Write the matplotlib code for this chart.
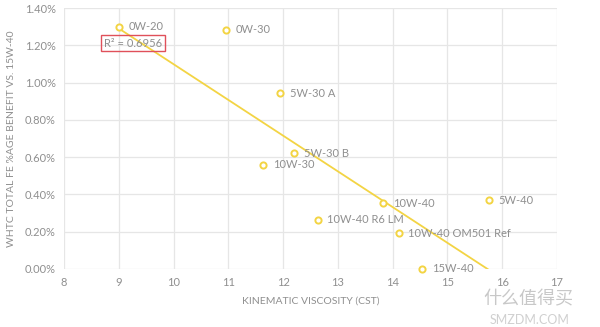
import numpy as np
import matplotlib
matplotlib.use("Agg")
import matplotlib.pyplot as plt
from matplotlib.ticker import FuncFormatter

labels = ["0W-20", "0W-30", "5W-30 A", "5W-30 B", "10W-30", "10W-40 R6 LM",
          "10W-40", "10W-40 OM501 Ref", "15W-40", "5W-40"]
viscosity = [9.0, 10.96, 11.95, 12.2, 11.63, 12.63, 13.83, 14.11, 14.54, 15.76]
benefit = [1.30, 1.284, 0.944, 0.622, 0.558, 0.263, 0.352, 0.193, 0.0, 0.37]
xticks = [8, 9, 10, 11, 12, 13, 14, 15, 16, 17]
yticks = [0.0, 0.2, 0.4, 0.6, 0.8, 1.0, 1.2, 1.4]
r2_text = "R² = 0.6956"

plt.rcParams['font.family'] = ['Lato', 'DejaVu Sans']
gray = '#8f8f8f'
yellow = '#F3D444'

fig = plt.figure(figsize=(6, 3.27), dpi=100)
ax = fig.add_axes([0.1067, 0.1774, 0.8216, 0.7981])

x = np.array(viscosity)
y = np.array(benefit)
slope, intercept = np.polyfit(x, y, 1)
xl = np.array([x.min(), x.max()])
ax.plot(xl, slope * xl + intercept, color=yellow, lw=1.3, zorder=2)

ax.scatter(x, y, s=20, facecolors='white', edgecolors=yellow, linewidths=1.4, zorder=3, clip_on=False)
for lx, ly, lab in zip(x, y, labels):
    ax.annotate(lab, (lx, ly), xytext=(7, 0), textcoords='offset points',
                va='center', ha='left', fontsize=8, color=gray, zorder=4)

ax.text(9.26, 1.212, r2_text, ha='center', va='center', fontsize=8, color=gray,
        bbox=dict(boxstyle='square,pad=0.25', fc='none', ec='#e0505a', lw=1.0), zorder=5)

ax.set_xlim(8, 17)
ax.set_ylim(0, 1.4)
ax.set_xticks(xticks)
ax.set_yticks(yticks)
ax.yaxis.set_major_formatter(FuncFormatter(lambda v, p: f"{v:.2f}%"))
ax.grid(True, color='#e6e6e6', lw=0.9)
ax.set_axisbelow(True)
for s in ax.spines.values():
    s.set_visible(False)
ax.tick_params(length=0, colors=gray, labelsize=8, pad=6)
ax.set_xlabel("KINEMATIC VISCOSITY (CST)", color=gray, fontsize=7.5, labelpad=6)
ax.set_ylabel("WHTC TOTAL FE %AGE BENEFIT VS. 15W-40", color=gray, fontsize=7.5, labelpad=6)

fig.text(0.955, 0.085, "什么值得买", family=['Noto Sans CJK SC', 'DejaVu Sans'],
         fontsize=13, color='#c8c8c8', ha='right', va='center')
fig.text(0.95, 0.02, "SMZDM.COM", fontsize=9, color='#d0d0d0', ha='right', va='center')

fig.savefig("out.png", dpi=100)
